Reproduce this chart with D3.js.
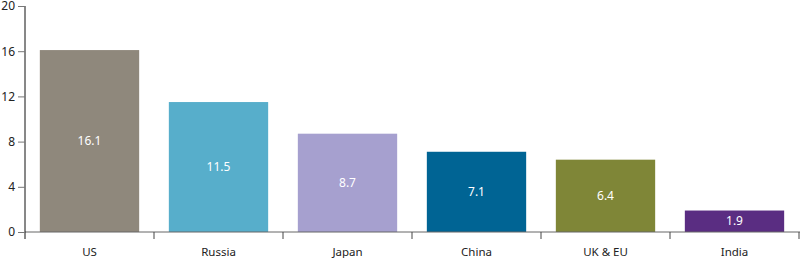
<!DOCTYPE html>
<html>
<head>
<meta charset="utf-8">
<script src="https://cdn.jsdelivr.net/npm/d3@7"></script>
<style>
  body { margin: 0; background: #fff; }
  svg { font-family: "Noto Sans", sans-serif; }
  .yaxis text, .xaxis text { fill: #222; }
</style>
</head>
<body>
<div id="chart"></div>
<script>
const categories = ["US", "Russia", "Japan", "China", "UK & EU", "India"]
const values = [16.1, 11.5, 8.7, 7.1, 6.4, 1.9]
const colors = ["#8f887c", "#57aecb", "#a6a0cf", "#006494", "#7f8637", "#5a2d82"]
const yTicks = [0, 4, 8, 12, 16, 20]

let width = 800
let height = 258
let margin = {top: 6, bottom: 26, left: 25, right: 1}

let svg = d3.select("#chart").append("svg")
    .attr("width", width)
    .attr("height", height)

let xScale = d3.scaleBand()
    .domain(categories)
    .range([margin.left, width - margin.right])
    .paddingInner(0.23)
    .paddingOuter(0.115)

let xTicks = d3.scaleBand()
    .domain(categories)
    .range([margin.left, width - margin.right])

let yScale = d3.scaleLinear()
    .domain([0, 20])
    .range([height - margin.bottom, margin.top])

// bars
svg.append("g").selectAll("rect")
    .data(values)
    .join("rect")
    .attr("x", (d, i) => xScale(categories[i]))
    .attr("y", d => yScale(d))
    .attr("width", xScale.bandwidth())
    .attr("height", d => yScale(0) - yScale(d))
    .attr("fill", (d, i) => colors[i])

// value labels
svg.append("g").selectAll("text")
    .data(values)
    .join("text")
    .attr("x", (d, i) => xScale(categories[i]) + xScale.bandwidth() / 2)
    .attr("y", d => (yScale(d) + yScale(0)) / 2)
    .attr("dy", "0.35em")
    .attr("text-anchor", "middle")
    .attr("fill", "#fff")
    .style("font-size", "12px")
    .text(d => d3.format(".1f")(d))

// baseline + boundary ticks
let xg = svg.append("g")
    .attr("class", "xaxis")
xg.append("line")
    .attr("x1", margin.left).attr("x2", width)
    .attr("y1", yScale(0)).attr("y2", yScale(0))
    .attr("stroke", "#666").attr("stroke-width", 1)
xg.selectAll("line.tk")
    .data(categories)
    .join("line")
    .attr("class", "tk")
    .attr("x1", d => xTicks(d) + xTicks.bandwidth())
    .attr("x2", d => xTicks(d) + xTicks.bandwidth())
    .attr("y1", yScale(0))
    .attr("y2", yScale(0) + 7)
    .attr("stroke", "#444")
xg.selectAll("text")
    .data(categories)
    .join("text")
    .attr("x", d => xTicks(d) + xTicks.bandwidth() / 2)
    .attr("y", yScale(0) + 20)
    .attr("dy", "0.35em")
    .attr("text-anchor", "middle")
    .style("font-size", "11.5px")
    .text(d => d)

// y axis
svg.append("g")
    .attr("class", "yaxis")
    .attr("transform", "translate(" + margin.left + ",0)")
    .call(d3.axisLeft(yScale).tickValues(yTicks).tickSize(7).tickPadding(3).tickSizeOuter(0))
    .call(g => g.select(".domain").attr("stroke", "#111").attr("d", "M0," + margin.top + "V" + (yScale(0) + 7)))
    .call(g => g.selectAll(".tick line").attr("stroke", "#777"))
    .call(g => g.selectAll(".tick text").style("font-size", "12px").style("font-family", "Noto Sans"))
</script>
</body>
</html>
